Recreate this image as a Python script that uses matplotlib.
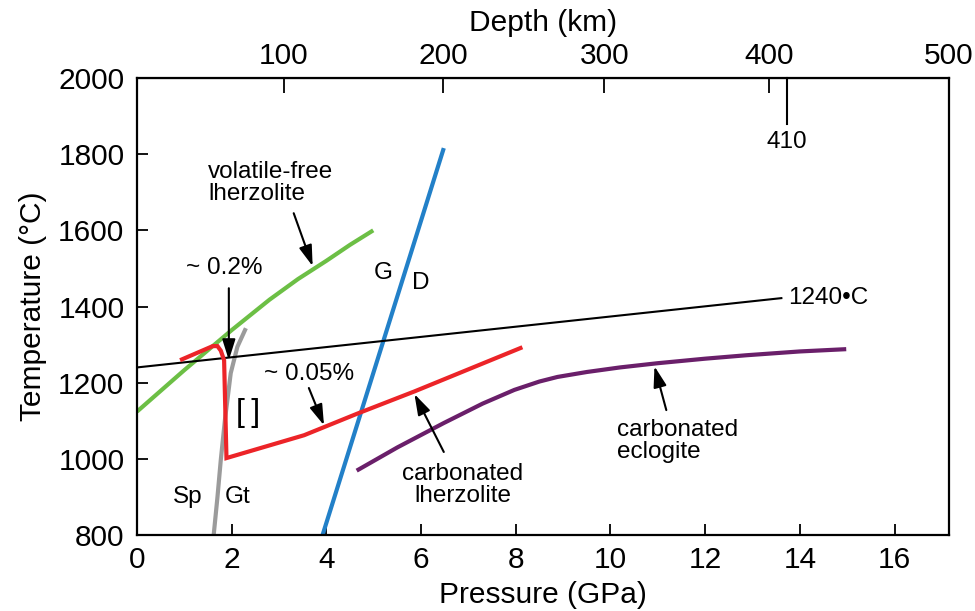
import numpy as np
import matplotlib
matplotlib.use("Agg")
import matplotlib.pyplot as plt

plt.rcParams['font.family'] = ['Liberation Sans', 'DejaVu Sans']

# depth (km) vs pressure (GPa) for the top axis
depth_km = [0, 100, 200, 300, 400, 500]
depth_p = [0.0, 3.10, 6.46, 9.87, 13.35, 17.15]
depth_ticks = [100, 200, 300, 400, 500]
depth_410 = 410

# volatile-free lherzolite solidus
vf_p = [0.0, 1.0, 2.0, 2.8, 3.4, 4.0, 4.5, 4.99]
vf_t = [1124, 1233, 1338, 1418, 1472, 1520, 1562, 1600]

# spinel / garnet transition
spgt_p = [1.62, 1.70, 1.77, 1.86, 1.98, 2.12, 2.30]
spgt_t = [800, 900, 997, 1105, 1225, 1294, 1343]

# carbonated lherzolite solidus
cl_p = [0.91, 1.60, 1.70, 1.77, 1.84, 1.89, 3.53, 4.66, 5.86, 8.14]
cl_t = [1259, 1296, 1296, 1284, 1259, 1002, 1062, 1119, 1177, 1293]

# graphite / diamond
gd_p = [3.92, 6.48]
gd_t = [800, 1816]

# 1240 C adiabat
ad_p = [0.0, 13.61]
ad_t = [1240, 1422]

# carbonated eclogite solidus
ce_p = [4.64, 5.5, 6.48, 7.3, 7.97, 8.5, 8.88, 9.5, 10.2, 10.99, 12.0,
        12.87, 14.0, 14.98]
ce_t = [969, 1030, 1094, 1145, 1181, 1203, 1215, 1228, 1240, 1251, 1263,
        1272, 1282, 1288]


def d2p(d):
    return np.interp(d, depth_km, depth_p)


def p2d(p):
    return np.interp(p, depth_p, depth_km)


fig = plt.figure(figsize=(9.75, 6.11), dpi=100)
ax = fig.add_axes([0.1405, 0.1244, 0.8328, 0.7479])

ax.plot(vf_p, vf_t, color='#6cbf45', lw=3, solid_capstyle='butt')
ax.plot(spgt_p, spgt_t, color='#9b9b9b', lw=3, solid_capstyle='butt')
ax.plot(gd_p, gd_t, color='#2280c8', lw=3, solid_capstyle='butt')
ax.plot(ad_p, ad_t, color='black', lw=1.5)
ax.plot(cl_p, cl_t, color='#ec2428', lw=3, solid_capstyle='butt',
        solid_joinstyle='miter')
ax.plot(ce_p, ce_t, color='#6a1f6a', lw=3, solid_capstyle='butt',
        solid_joinstyle='round')

# 410 discontinuity marker
p410 = d2p(depth_410)
ax.plot([p410, p410], [2000, 1880], color='black', lw=1.5, clip_on=False)

fs = 17.5
ax.text(p410, 1831, '410', fontsize=fs, ha='center', va='center')

ax.set_xlim(0, depth_p[-1])
ax.set_ylim(800, 2000)
ax.set_xticks(range(0, 17, 2))
ax.set_yticks(range(800, 2001, 200))
ax.tick_params(direction='in', length=8, width=1.3, labelsize=21.5, pad=8)
ax.tick_params(axis='y', pad=9)
for s in ax.spines.values():
    s.set_linewidth(1.6)

ax.set_xlabel('Pressure (GPa)', fontsize=21.5, labelpad=5)
ax.set_ylabel('Temperature (\u00b0C)', fontsize=21.5, labelpad=8)

sec = ax.secondary_xaxis('top', functions=(p2d, d2p))
sec.set_xticks(depth_ticks)
sec.tick_params(direction='in', length=11, width=1.3, labelsize=21.5, pad=6)
sec.set_xlabel('Depth (km)', fontsize=21.5, labelpad=8)

arw = dict(arrowstyle='-|>,head_length=0.7,head_width=0.22', lw=1.5,
           color='black', shrinkA=0, shrinkB=0, mutation_scale=18)

ax.text(1.50, 1725, 'volatile-free\nlherzolite', fontsize=fs, ha='left',
        va='center', linespacing=1.0)
ax.annotate('', xy=(3.71, 1506), xytext=(3.31, 1645), arrowprops=arw)

ax.text(1.84, 1501, '~ 0.2%', fontsize=fs, ha='center', va='center')
ax.annotate('', xy=(1.94, 1259), xytext=(1.94, 1448), arrowprops=arw)

ax.text(2.34, 1120, '[\u2009]', fontsize=23, ha='center', va='center')

ax.text(3.63, 1223, '~ 0.05%', fontsize=fs, ha='center', va='center')
ax.annotate('', xy=(3.95, 1088), xytext=(3.63, 1186), arrowprops=arw)

ax.text(5.21, 1488, 'G', fontsize=fs, ha='center', va='center')
ax.text(5.99, 1461, 'D', fontsize=fs, ha='center', va='center')

ax.text(13.76, 1422, '1240\u2022C', fontsize=fs, ha='left', va='center')

ax.text(6.88, 932, 'carbonated\nlherzolite', fontsize=fs, ha='center',
        va='center', linespacing=1.0)
ax.annotate('', xy=(5.86, 1170), xytext=(6.48, 1018), arrowprops=arw)

ax.text(10.13, 1048, 'carbonated\neclogite', fontsize=fs, ha='left',
        va='center', linespacing=1.0)
ax.annotate('', xy=(10.93, 1243), xytext=(11.18, 1128), arrowprops=arw)

ax.text(1.08, 900, 'Sp', fontsize=fs, ha='center', va='center')
ax.text(2.13, 900, 'Gt', fontsize=fs, ha='center', va='center')

fig.savefig('out.png', dpi=100)
